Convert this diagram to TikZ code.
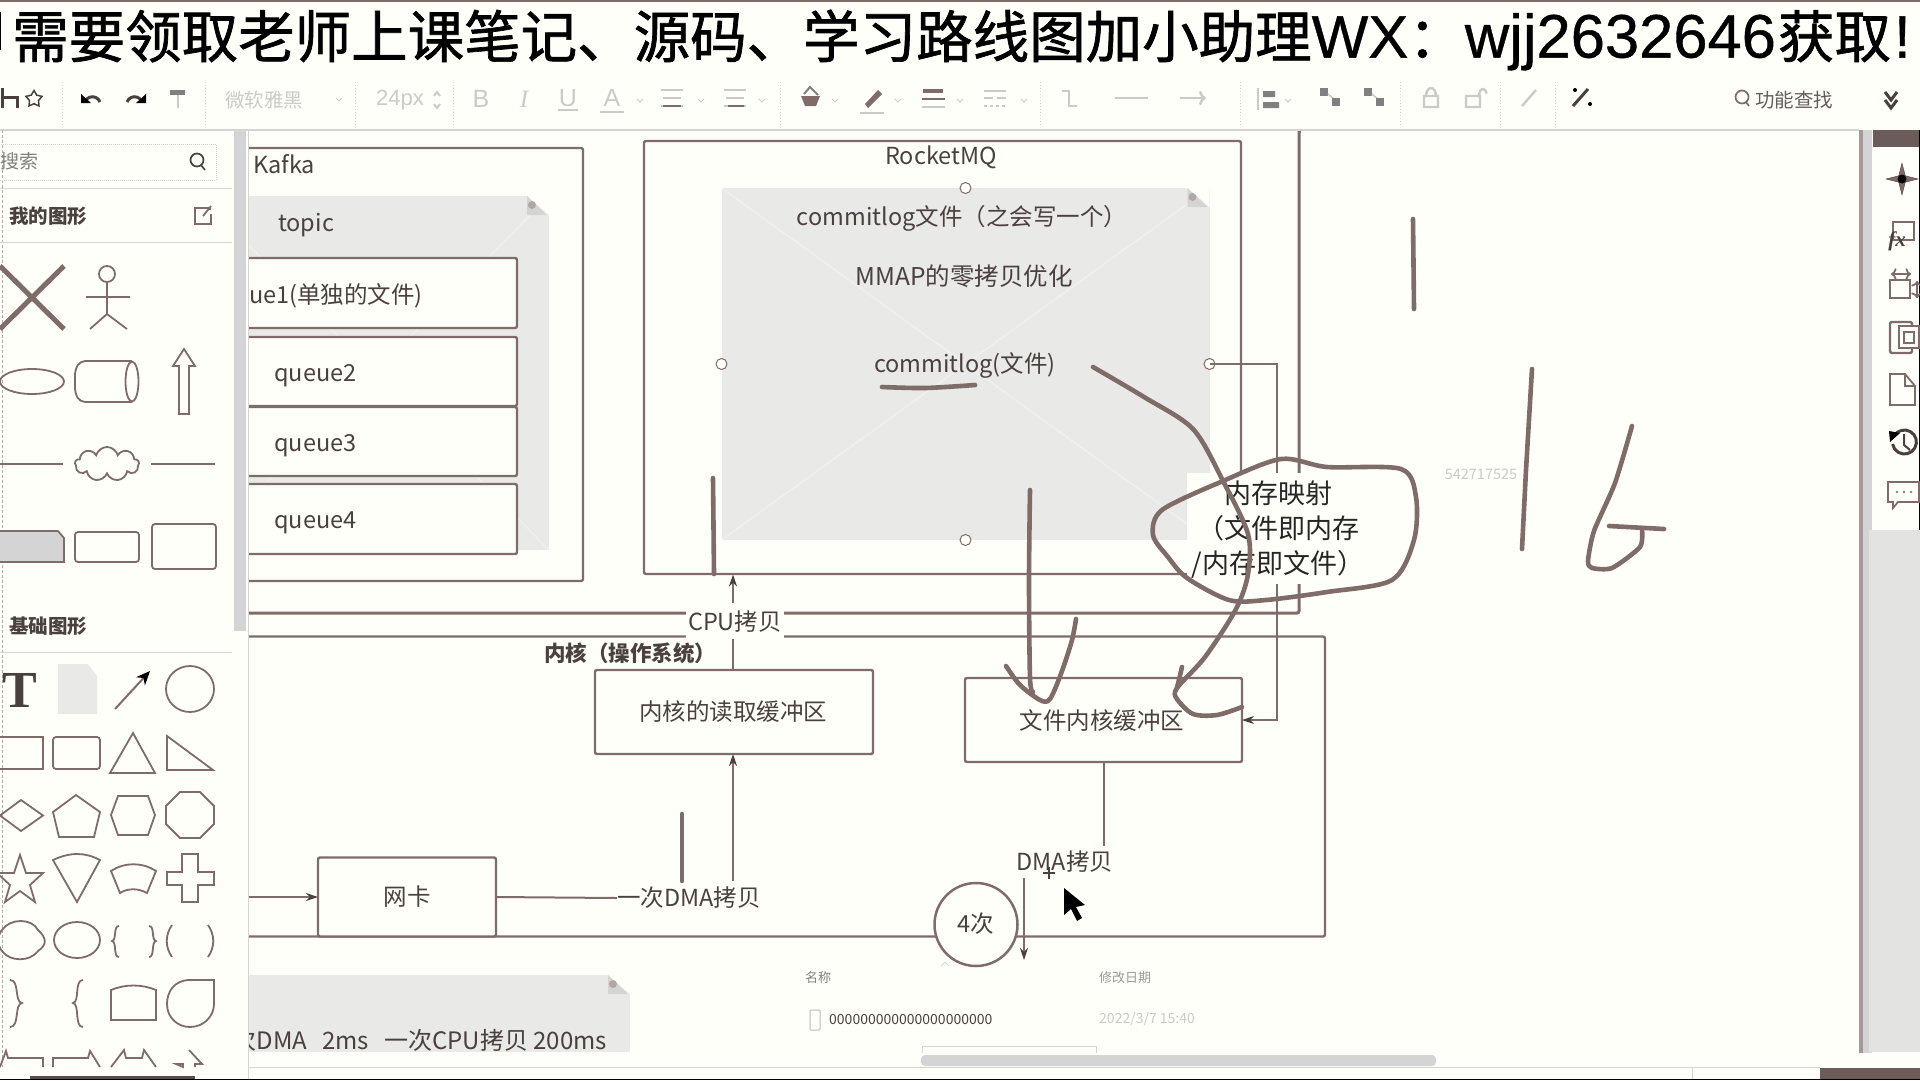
\documentclass[tikz,border=0pt]{standalone}
\usepackage{fontspec}
\setmainfont{Noto Sans CJK SC}
\newfontfamily\titlecjk[FakeBold=1.2]{Noto Sans CJK SC}
\newfontfamily\titlelatin[FakeBold=0.6]{Liberation Sans}
\newfontfamily\iconserif{Liberation Serif}
\newfontfamily\iconsans{Liberation Sans}
\usetikzlibrary{arrows.meta,shapes.geometric,shapes.symbols}

\definecolor{bgc}{HTML}{FFFFFA}
\definecolor{penc}{HTML}{7F6C69}
\definecolor{inkc}{HTML}{4A403E}
\definecolor{grayc}{HTML}{D4D4D4}
\definecolor{notec}{HTML}{E9E9E7}
\definecolor{ghostc}{HTML}{CACAC8}

\tikzset{
    boxnode/.style={draw=penc, line width=2.4, rounded corners=2, fill=bgc, inner sep=0, outer sep=0},
    framenode/.style={draw=penc, line width=2.4, rounded corners=2, inner sep=0, outer sep=0},
    notenode/.style={fill=notec, inner sep=0, outer sep=0},
    labelnode/.style={text=inkc, font=\fontsize{23.5}{27}\selectfont, inner sep=0},
    gaplabel/.style={labelnode, fill=bgc},
    conn/.style={draw=penc, line width=2},
    connarrow/.style={conn, -{Stealth[length=12,width=8,color=inkc]}},
    penstroke/.style={draw=penc, line width=4.6, line cap=round, line join=round},
    handle/.style={draw=penc, line width=1, fill=bgc},
    iconline/.style={draw=penc, line width=1.8},
    toolicon/.style={draw=ghostc, line width=2.4},
    toolink/.style={draw=inkc, line width=3},
    sepline/.style={draw=grayc, line width=1},
    ghosttext/.style={text=ghostc, inner sep=0},
}

% fold mark and light diagonals on a note
\newcommand{\notefold}[1]{
    \fill[bgc] (#1.north east) -- ++(-22,0) -- ++(22,19) -- cycle;
    \fill[grayc] (#1.north east) ++(-22,0) -- ++(20,19) -- ++(-20,0) -- cycle;
    \fill[penc!60] (#1.north east) ++(-17,9) circle (4pt);
}
\newcommand{\notecross}[1]{
    \draw[bgc, line width=1.2, opacity=0.35] (#1.south west) -- (#1.north east) (#1.north west) -- (#1.south east);
}
% three short lines of a toolbar button
\newcommand{\toollines}[2]{
    \draw[toolicon] (#1-11,#2-8) -- (#1+11,#2-8) (#1-9,#2) -- (#1+9,#2) (#1-11,#2+8) -- (#1+11,#2+8);
}

\begin{document}
\begin{tikzpicture}[x=1pt, y=-1pt]
    \useasboundingbox (0,0) rectangle (1920,1080);
    \fill[bgc] (0,0) rectangle (1920,1080);

    % user space and kernel frames
    \node[framenode, line width=3, minimum width=1100, minimum height=513] (userspace) at (749,356.5) {};
    \node[framenode, minimum width=1126, minimum height=300] (kernel) at (762,786.5) {};
    \node[labelnode, font=\fontsize{21.5}{25}\selectfont\bfseries, anchor=west] (kerneltitle) at (544,653) {内核（操作系统）};

    % Kafka side
    \node[framenode, minimum width=483, minimum height=433] (kafka) at (341.5,364.5) {};
    \node[labelnode, anchor=west] (kafkatitle) at (253,164) {Kafka};
    \node[notenode, minimum width=349, minimum height=354] (topic) at (374.5,373) {};
    \notecross{topic}
    \notefold{topic}
    \node[labelnode, anchor=west] (topictitle) at (278,225.5) {topic};
    \node[boxnode, minimum width=319, minimum height=70] (queue1) at (357.5,293) {};
    \node[boxnode, minimum width=319, minimum height=69] (queue2) at (357.5,371.5) {};
    \node[boxnode, minimum width=319, minimum height=69] (queue3) at (357.5,441.5) {};
    \node[boxnode, minimum width=319, minimum height=70] (queue4) at (357.5,519) {};
    \node[labelnode, anchor=east] (queue1text) at (423,296) {ue1(单独的文件)};
    \node[labelnode, anchor=west] (queue2text) at (274,376) {queue2};
    \node[labelnode, anchor=west] (queue3text) at (274,445.5) {queue3};
    \node[labelnode, anchor=west] (queue4text) at (274,523) {queue4};

    % RocketMQ side
    \node[framenode, minimum width=597, minimum height=433] (rocketmq) at (942.5,357.5) {};
    \node[labelnode] (rocketmqtitle) at (941,157.5) {RocketMQ};
    \node[notenode, minimum width=488, minimum height=352] (commitlog) at (965.5,364) {};
    \notecross{commitlog}
    \notefold{commitlog}
    \node[labelnode] (commitlogtitle) at (962,218) {commitlog文件（之会写一个）};
    \node[labelnode, font=\fontsize{24.5}{28}\selectfont] (mmaptext) at (964,276) {MMAP的零拷贝优化};
    \node[labelnode] (commitlogfile) at (965,365) {commitlog(文件)};
    \foreach \side in {north,south,east,west}
        \draw[handle] (commitlog.\side) circle (5.5pt);

    % kernel boxes
    \node[boxnode, minimum width=278, minimum height=84] (readbuf) at (734,712) {};
    \node[labelnode] (readbuftext) at (733,712) {内核的读取缓冲区};
    \node[boxnode, minimum width=277, minimum height=84] (filebuf) at (1103.5,720) {};
    \node[labelnode] (filebuftext) at (1102,721) {文件内核缓冲区};
    \node[boxnode, minimum width=178, minimum height=79] (nic) at (407,897) {};
    \node[labelnode] (nictext) at (407,897) {网卡};

    % copy labels and the connectors between them
    \node[gaplabel, minimum width=98, minimum height=38] (cpucopy) at (735,622) {CPU拷贝};
    \node[gaplabel] (dmaonce) at (689,898) {一次DMA拷贝};
    \node[gaplabel] (dmacopy) at (1065,862) {DMA拷贝};
    \coordinate (nicin) at (248,897);
    \coordinate (commitlogtop) at (733,574.5);
    \coordinate (dmaend) at (1024,878);
    \coordinate (dmatip) at (1024,960);
    \draw[connarrow] (nicin) -- (nic.west);
    \draw[conn] (nic.east) -- (dmaonce.west);
    \draw[connarrow] (733,881) -- (readbuf.south -| 733,0);
    \draw[conn] (readbuf.north -| 733,0) -- (733,639);
    \draw[connarrow] (733,603) -- (commitlogtop);
    \draw[conn] (filebuf.south) -- (1103.5,846);
    \draw[connarrow] (dmaend) -- (dmatip);
    \draw[connarrow] (commitlog.east) -| (1277,720) -- (filebuf.east);

    % the label that covers the frames
    \node[fill=bgc, inner sep=0, minimum width=203, minimum height=111] (memmapgap) at (1288.5,528) {};
    \node[labelnode, text=black!85, font=\fontsize{27}{35}\selectfont, align=center] (memmap) at (1278,530) {内存映射\\（文件即内存\\/内存即文件）};
    \node[draw=penc, line width=2.5, fill=bgc, circle, minimum size=83, inner sep=0] (fourtimes) at (976,924.5) {};
    \node[labelnode] (fourtext) at (976,924) {4次};

    % bottom note and the file list behind it
    \node[notenode, minimum width=382, minimum height=77] (timenote) at (439,1013.5) {};
    \notefold{timenote}
    \node[labelnode, font=\fontsize{24}{28}\selectfont, anchor=east] (timetext) at (607,1040) {一次DMA\hspace{15pt}2ms\hspace{15pt}一次CPU拷贝 200ms};
    \node[ghosttext, text=gray, font=\fontsize{13}{15}\selectfont] (namehead) at (818,978) {名称};
    \node[ghosttext, text=gray!80, font=\fontsize{13}{15}\selectfont] (datehead) at (1125,978) {修改日期};
    \node[labelnode, font=\fontsize{14}{16}\selectfont, anchor=west] (filename) at (829,1019) {000000000000000000000};
    \node[ghosttext, font=\fontsize{14}{16}\selectfont, anchor=west] (filedate) at (1099,1019) {2022/3/7 15:40};
    \draw[draw=grayc, line width=1.5, rounded corners=1] (810,1010) rectangle (820,1030);
    \draw[draw=grayc, line width=1] (922,1053) -- (922,1046) -- (1096,1046) -- (1096,1053);
    \draw[draw=grayc, line width=1] (941,966) -- (945,962) -- (949,966);
    \node[ghosttext, font=\fontsize{14.5}{16}\selectfont] (idtext) at (1481,474) {542717525};

    % pen strokes over the picture
    \draw[penstroke] plot[smooth] coordinates {(882,387) (925,388) (975,385)};
    \draw[penstroke] (713,478) -- (714,574);
    \draw[penstroke] (682,814) -- (682,881);
    \draw[penstroke] plot[smooth] coordinates {(1030,490) (1029,580) (1030,678) (1033,692)};
    \draw[penstroke] plot[smooth] coordinates {(1006,666) (1020,685) (1040,700) (1050,699) (1062,671) (1072,640) (1076,619)};
    \draw[penstroke] plot[smooth] coordinates {(1093,367) (1144,397) (1193,429) (1223,481) (1248,534) (1248,574) (1236,609) (1205,657) (1177,688) (1177,699) (1193,714) (1217,715) (1242,707)};
    \draw[penstroke] (1182,667) -- (1177,688);
    \draw[penstroke] plot[smooth cycle, tension=0.5] coordinates {(1281,459) (1327,467) (1401,469) (1416,497) (1414,540) (1392,580) (1327,592) (1266,600) (1229,600) (1187,578) (1168,557) (1153,535) (1162,510) (1223,481)};
    \draw[penstroke] (1413,219) -- (1414,309);
    \draw[penstroke] (1532,369) -- (1526,470) -- (1522,549);
    \draw[penstroke] plot[smooth, tension=0.4] coordinates {(1632,426) (1615,483) (1594,531) (1588,561) (1592,568) (1612,568) (1640,547) (1642,529)};
    \draw[penstroke] (1609,526) -- (1664,529);

    % mouse cursor and crosshair
    \draw[inkc, line width=1.5] (1043,873) -- (1055,873) (1049,867) -- (1049,879);
    \fill[black] (1064,888) -- (1064,915) -- (1071,909) -- (1077,921) -- (1082,918) -- (1076,907) -- (1085,905) -- cycle;

    % scrollbars and bottom strip
    \fill[grayc, rounded corners=4] (921,1055) rectangle (1436,1066);
    \fill[bgc] (248,1067) rectangle (1920,1080);
    \draw[sepline] (248,1067) -- (1820,1067);
    \draw[sepline] (1692,1067) -- (1692,1079);
    \fill[penc!85!black] (1820,1068) rectangle (1920,1079);

    % right panel
    \fill[bgc] (1859,130) rectangle (1920,1053);
    \fill[penc!70!white] (1859,130) rectangle (1863,1053);
    \fill[grayc] (1863,130) rectangle (1872,1053);
    \fill[grayc!65!bgc] (1869,530) rectangle (1920,1052);
    \fill[penc!85!black] (1873,130) rectangle (1920,147);
    \fill[black] (1919,80) rectangle (1920,530);
    \node[draw=inkc, fill=penc, star, star points=4, star point ratio=3.5, minimum size=32, inner sep=0] (compassicon) at (1902,179) {};
    \fill[black] (1902,179) circle (4.5pt);
    \draw[iconline] (1893,222) -- (1914,222) -- (1914,240) -- (1893,240) -- cycle;
    \node[text=inkc, font=\iconserif\itshape\bfseries\fontsize{21}{21}\selectfont, inner sep=0] (fxicon) at (1897,241) {fx};
    \draw[iconline] (1890,280) rectangle (1910,298);
    \draw[iconline, <->] (1891,274) -- (1911,274);
    \draw[iconline, <->] (1917,281) -- (1917,298);
    \draw[draw=penc, line width=2.4, rounded corners=2] (1890,322) rectangle (1912,353);
    \draw[draw=penc, fill=bgc, line width=2.4] (1899,326) rectangle (1919,348);
    \draw[iconline] (1904,332) rectangle (1914,343);
    \draw[iconline] (1890,374) -- (1905,374) -- (1915,386) -- (1915,405) -- (1890,405) -- cycle;
    \draw[iconline] (1905,374) -- (1905,386) -- (1915,386);
    \draw[toolink] (1894,436) arc (150:-170:12pt);
    \fill[black] (1889,431) -- (1900,433) -- (1890,442) -- cycle;
    \draw[inkc, line width=2] (1904,434) -- (1904,445) -- (1910,450);
    \draw[iconline] (1888,482) -- (1919,482) -- (1919,502) -- (1898,502) -- (1893,508) -- (1893,502) -- (1888,502) -- cycle;
    \fill[gray] (1897,492) circle (1.3pt) (1904,492) circle (1.3pt) (1911,492) circle (1.3pt);

    % left panel
    \fill[bgc] (0,130) rectangle (247.5,1067);
    \draw[sepline] (248,130) -- (248,1079);
    \fill[grayc] (234,131) rectangle (246,631);
    \draw[densely dashed, draw=penc!60] (2,130) -- (2,1067);
    \draw[sepline, densely dotted] (0,180) -- (216,180) -- (216,144) -- (0,144);
    \node[anchor=west, text=gray, font=\fontsize{19}{23}\selectfont, inner sep=0] (searchtext) at (0,161) {搜索};
    \draw[draw=inkc, line width=1.7] (197,160) circle (6.5pt) (201,165) -- (205,170);
    \draw[sepline] (0,188) -- (232,188);
    \node[anchor=west, font=\fontsize{19.5}{23}\selectfont\bfseries, text=inkc, inner sep=0] (myshapes) at (9,216) {我的图形};
    \draw[iconline] (210,210) -- (210,208) -- (195,208) -- (195,224) -- (211,224) -- (211,214) (211,206) -- (203,216);
    \draw[sepline] (0,242) -- (232,242);

    \draw[draw=penc, line width=5] (0,266) -- (64,329) (64,266) -- (0,329);
    \draw[iconline] (107,274) circle (8pt) (107,282) -- (107,314) (86,297) -- (130,297) (90,329) -- (107,314) -- (127,329);
    \draw[iconline] (32,381.5) ellipse (32pt and 12.5pt);
    \draw[iconline, rounded corners=5] (132,361) -- (80,361) -- (75,370) -- (75,393) -- (80,402) -- (132,402);
    \draw[iconline] (132,361.5) arc (90:-270:6.5pt and 20pt);
    \draw[iconline] (184,349) -- (195,366) -- (189,366) -- (189,414) -- (179,414) -- (179,366) -- (173,366) -- cycle;
    \draw[iconline] (0,464) -- (63,464) (151,464) -- (215,464);
    \node[draw=penc, line width=1.8, cloud, cloud puffs=9, aspect=1.9, minimum width=64, minimum height=34, inner sep=0] (cloudicon) at (107,464) {};
    \fill[grayc] (0,531) -- (58,531) -- (64,538) -- (64,562) -- (0,562) -- cycle;
    \draw[iconline] (0,531) -- (58,531) -- (64,538) -- (64,562) -- (0,562);
    \draw[iconline, rounded corners=3] (75,532) rectangle (139,562);
    \draw[iconline, rounded corners=3] (152,524) rectangle (216,569);

    \node[anchor=west, font=\fontsize{19.5}{23}\selectfont\bfseries, text=inkc, inner sep=0] (basicshapes) at (9,626) {基础图形};
    \draw[sepline] (0,652) -- (232,652);
    \node[inkc, font=\iconserif\bfseries\fontsize{52}{52}\selectfont, inner sep=0] (texticon) at (20,690) {T};
    \fill[notec] (58,664) -- (88,664) -- (97,676) -- (97,714) -- (58,714) -- cycle;
    \draw[draw=penc, line width=2, -{Stealth[length=14,width=12,color=black]}] (115,709) -- (150,671);
    \draw[iconline] (190,689) ellipse (24pt and 23pt);

    \draw[iconline] (0,737) -- (43,737) -- (43,769) -- (0,769);
    \draw[iconline, rounded corners=3] (53,737) rectangle (100,769);
    \draw[iconline] (133,733) -- (155,773) -- (110,773) -- cycle;
    \draw[iconline] (167,736) -- (213,770) -- (167,770) -- cycle;

    \draw[iconline] (21,800) -- (43,815.5) -- (21,831) -- (0,815.5) -- cycle;
    \draw[iconline] (76,795) -- (100,812) -- (94,837) -- (59,837) -- (53,812) -- cycle;
    \draw[iconline] (118,796) -- (148,796) -- (155,815) -- (148,835) -- (118,835) -- (111,815) -- cycle;
    \draw[iconline] (180,792) -- (200,792) -- (214,806) -- (214,824) -- (200,838) -- (180,838) -- (166,824) -- (166,806) -- cycle;

    \draw[iconline] (20,855) -- (26,873) -- (43,873) -- (30,885) -- (35,902) -- (20,891) -- (5,902) -- (10,885) -- (-3,873) -- (14,873) -- cycle;
    \draw[iconline] (53,860) .. controls (70,852) and (85,852) .. (100,860) -- (77,902) -- cycle;
    \draw[iconline] (111,871) .. controls (125,862) and (142,862) .. (156,871) -- (147,893) .. controls (138,888) and (128,888) .. (120,893) -- cycle;
    \draw[iconline] (182,854) -- (198,854) -- (198,872) -- (214,872) -- (214,885) -- (198,885) -- (198,902) -- (182,902) -- (182,885) -- (167,885) -- (167,872) -- (182,872) -- cycle;

    \draw[iconline] (2,930) .. controls (10,918) and (32,918) .. (38,930) .. controls (47,938) and (47,945) .. (38,951) .. controls (30,962) and (10,962) .. (2,951) .. controls (-3,945) and (-3,936) .. (2,930) -- cycle;
    \draw[iconline] (77,940) ellipse (23pt and 18pt);
    \draw[iconline] (119,926) .. controls (113,926) and (117,940) .. (112,941) .. controls (117,942) and (113,957) .. (119,957);
    \draw[iconline] (149,926) .. controls (155,926) and (151,940) .. (156,941) .. controls (151,942) and (155,957) .. (149,957);
    \draw[iconline] (172,925) .. controls (165,935) and (165,947) .. (172,957);
    \draw[iconline] (208,925) .. controls (215,935) and (215,947) .. (208,957);

    \draw[iconline] (10,980) .. controls (20,980) and (14,1002) .. (22,1003) .. controls (14,1004) and (20,1027) .. (10,1027);
    \draw[iconline] (83,980) .. controls (74,980) and (80,1002) .. (73,1003) .. controls (80,1004) and (74,1027) .. (83,1027);
    \draw[iconline] (111,1020) -- (111,990) .. controls (125,984) and (142,984) .. (156,990) -- (156,1020) -- cycle;
    \draw[iconline] (214,980) -- (190,980) .. controls (174,980) and (167,992) .. (167,1004) .. controls (167,1018) and (178,1027) .. (190,1027) .. controls (204,1027) and (214,1016) .. (214,1004) -- cycle;

    \draw[iconline] (0,1067) -- (6,1051) -- (8,1058) -- (43,1058) -- (43,1067);
    \draw[iconline] (53,1067) -- (53,1058) -- (88,1058) -- (90,1051) -- (100,1067);
    \draw[iconline] (111,1067) -- (124,1050) -- (126,1058) -- (142,1058) -- (144,1050) -- (156,1067);
    \draw[iconline] (189,1050) -- (202,1064) -- (195,1064) -- (195,1067) (183,1067) -- (183,1064) -- (176,1064) -- cycle;
    \fill[penc!70!black] (30,1076) rectangle (195,1079);

    % toolbar and title band
    \fill[bgc] (0,0) rectangle (1920,130);
    \draw[grayc, line width=2] (0,130) -- (1859,130);
    \draw[penc, line width=3] (1299,131) -- (1299,133);
    \fill[penc] (0,0) rectangle (1920,1.5);
    \fill[black] (0,1078.5) rectangle (1920,1080);
    \fill[black] (0,12) rectangle (1,50);
    \node[anchor=west, inner sep=0, font=\titlecjk\fontsize{56.5}{60}\selectfont] (titletext) at (12,40) {需要领取老师上课笔记、源码、学习路线图加小助理{\titlelatin\fontsize{60}{60}\selectfont WX}：{\titlelatin\fontsize{61.5}{60}\selectfont wjj2632646}\kern2pt 获取\kern3pt{\titlelatin\fontsize{60}{60}\selectfont !}};

    \foreach \sepx in {62,205,355,453,780,1040,1240,1400,1500,1555}
        \draw[sepline, dotted] (\sepx,82) -- (\sepx,127);
    \draw[toolink] (2,88) -- (2,108) (2,97) -- (17,97) -- (17,108);
    \node[draw=inkc, line width=1.5, star, star points=5, star point ratio=1.8, minimum size=17, inner sep=0] (favicon) at (34,99) {};
    \draw[toolink] (100,102) arc (20:150:8pt and 8pt);
    \fill[black] (81,94) -- (91,103) -- (81,103) -- cycle;
    \draw[toolink] (127,102) arc (160:30:8pt and 8pt);
    \fill[black] (146,94) -- (136,103) -- (146,103) -- cycle;
    \draw[draw=gray, line width=5] (170,92) -- (185,92);
    \draw[draw=ghostc, line width=2] (178,95) -- (178,108);
    \node[ghosttext, font=\fontsize{19.5}{23}\selectfont] (fonttext) at (264,100) {微软雅黑};
    \draw[toolicon, line width=1] (336,98) -- (339,101) -- (342,98);
    \node[ghosttext, font=\iconsans\fontsize{22}{25}\selectfont] (sizetext) at (400,100) {24px};
    \draw[toolicon, line width=2] (434,96) -- (437,92) -- (440,96) (434,104) -- (437,108) -- (440,104);
    \node[ghosttext, font=\iconsans\fontsize{25}{25}\selectfont] (boldtext) at (481,99) {B};
    \node[ghosttext, font=\iconserif\itshape\fontsize{25}{25}\selectfont] (italictext) at (524,99) {I};
    \node[ghosttext, font=\iconsans\fontsize{25}{25}\selectfont] (underlinetext) at (568,98) {U};
    \node[ghosttext, font=\iconsans\fontsize{25}{25}\selectfont] (colortext) at (612,98) {A};
    \draw[toolicon] (558,110) -- (578,110) (600,112) -- (624,112);
    \foreach \chevx in {640,701,762,835,898,960,1024,1288}
        \draw[toolicon, line width=1] (\chevx-3,99) -- (\chevx,102) -- (\chevx+3,99);
    \toollines{672}{98}
    \draw[penc, line width=1.5] (663,106) -- (681,106);
    \toollines{735}{98}
    \draw[penc, line width=1.5] (728,106) -- (744,106);
    \fill[penc] (801,96) -- (820,96) -- (816,106) -- (805,106) -- cycle;
    \draw[draw=gray, line width=2] (804,94) -- (810,87) -- (818,95);
    \fill[penc] (865,104) -- (878,90) -- (882,94) -- (868,108) -- cycle;
    \draw[toolicon] (860,113) -- (884,113);
    \draw[penc, line width=4] (923,91) -- (943,91);
    \draw[penc, line width=1.5] (922,99) -- (945,99);
    \draw[toolicon] (922,107) -- (945,107);
    \draw[toolicon] (984,91) -- (1006,91);
    \draw[toolicon, dash pattern=on 9 off 4] (984,98) -- (1006,98);
    \draw[toolicon, dash pattern=on 3 off 3] (984,106) -- (1006,106);
    \draw[toolicon] (1062,91) -- (1069,91) -- (1069,106) -- (1077,106);
    \draw[toolicon] (1115,98) -- (1148,98);
    \draw[toolicon, ->] (1180,98) -- (1206,98);
    \draw[toolicon] (1258,88) -- (1258,110);
    \fill[gray] (1263,91) rectangle (1275,97) (1263,102) rectangle (1279,108);
    \fill[gray] (1320,88) rectangle (1328,96);
    \draw[toolicon, line width=1.5] (1328,94) -- (1335,100);
    \fill[gray] (1332,98) rectangle (1340,106);
    \fill[gray] (1364,88) rectangle (1372,96);
    \draw[toolicon, line width=1.5] (1372,94) -- (1379,100);
    \fill[gray] (1376,98) rectangle (1384,106);
    \draw[toolicon] (1424,96) rectangle (1438,107) (1426,96) arc (180:0:5pt and 8pt);
    \draw[toolicon] (1466,96) rectangle (1480,107) (1479,96) arc (180:20:4pt and 7pt);
    \draw[toolicon] (1522,106) -- (1536,90);
    \draw[toolink] (1573,106) -- (1588,89);
    \fill[black] (1575,90) circle (2pt) (1590,104) circle (2pt);
    \draw[draw=penc, line width=1.7] (1742,97) circle (6.5pt) (1746,102) -- (1749,106);
    \node[anchor=west, text=inkc!85, font=\fontsize{19.5}{23}\selectfont, inner sep=0] (findtext) at (1755,100) {功能查找};
    \draw[draw=inkc, line width=3] (1885,92) -- (1891,100) -- (1897,92) (1885,100) -- (1891,108) -- (1897,100);
\end{tikzpicture}
\end{document}
